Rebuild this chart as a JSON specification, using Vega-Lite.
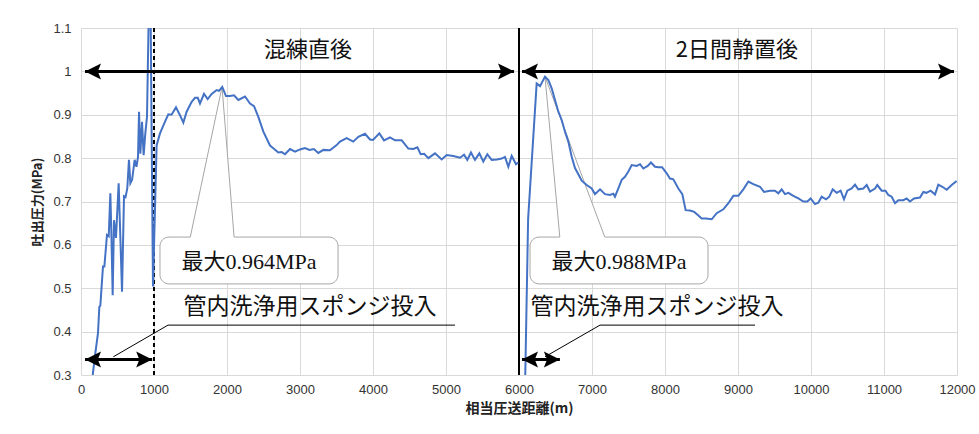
{
  "$schema": "https://vega.github.io/schema/vega-lite/v6.json",
  "width": 876,
  "height": 347,
  "autosize": {"type": "none"},
  "padding": {"left": 81, "top": 28, "right": 22, "bottom": 59},
  "background": "white",
  "config": {"view": {"stroke": null}},
  "datasets": {
    "line": [
      {"x":150,"y":0.28,"s":"a"},{"x":164,"y":0.305,"s":"a"},{"x":196,"y":0.35,"s":"a"},{"x":233,"y":0.397,"s":"a"},{"x":251,"y":0.457,"s":"a"},{"x":265,"y":0.46,"s":"a"},{"x":301,"y":0.55,"s":"a"},{"x":320,"y":0.55,"s":"a"},{"x":356,"y":0.623,"s":"a"},{"x":380,"y":0.62,"s":"a"},{"x":402,"y":0.719,"s":"a"},{"x":416,"y":0.627,"s":"a"},{"x":434,"y":0.484,"s":"a"},{"x":452,"y":0.657,"s":"a"},{"x":479,"y":0.616,"s":"a"},{"x":516,"y":0.742,"s":"a"},{"x":562,"y":0.492,"s":"a"},{"x":589,"y":0.712,"s":"a"},{"x":610,"y":0.71,"s":"a"},{"x":634,"y":0.73,"s":"a"},{"x":657,"y":0.796,"s":"a"},{"x":676,"y":0.742,"s":"a"},{"x":700,"y":0.75,"s":"a"},{"x":735,"y":0.796,"s":"a"},{"x":760,"y":0.78,"s":"a"},{"x":781,"y":0.803,"s":"a"},{"x":795,"y":0.907,"s":"a"},{"x":813,"y":0.81,"s":"a"},{"x":836,"y":0.884,"s":"a"},{"x":858,"y":0.807,"s":"a"},{"x":881,"y":0.857,"s":"a"},{"x":904,"y":0.895,"s":"a"},{"x":945,"y":1.3,"s":"a"},{"x":986,"y":0.504,"s":"a"},{"x":1036,"y":0.83,"s":"a"},{"x":1082,"y":0.857,"s":"a"},{"x":1151,"y":0.884,"s":"a"},{"x":1196,"y":0.901,"s":"a"},{"x":1240,"y":0.9,"s":"a"},{"x":1301,"y":0.917,"s":"a"},{"x":1356,"y":0.899,"s":"a"},{"x":1402,"y":0.882,"s":"a"},{"x":1447,"y":0.907,"s":"a"},{"x":1516,"y":0.93,"s":"a"},{"x":1562,"y":0.939,"s":"a"},{"x":1600,"y":0.939,"s":"a"},{"x":1630,"y":0.926,"s":"a"},{"x":1685,"y":0.948,"s":"a"},{"x":1735,"y":0.936,"s":"a"},{"x":1790,"y":0.948,"s":"a"},{"x":1858,"y":0.957,"s":"a"},{"x":1890,"y":0.955,"s":"a"},{"x":1935,"y":0.964,"s":"a"},{"x":1986,"y":0.943,"s":"a"},{"x":2040,"y":0.943,"s":"a"},{"x":2096,"y":0.945,"s":"a"},{"x":2155,"y":0.934,"s":"a"},{"x":2247,"y":0.942,"s":"a"},{"x":2315,"y":0.926,"s":"a"},{"x":2370,"y":0.92,"s":"a"},{"x":2429,"y":0.895,"s":"a"},{"x":2498,"y":0.861,"s":"a"},{"x":2589,"y":0.829,"s":"a"},{"x":2634,"y":0.823,"s":"a"},{"x":2703,"y":0.813,"s":"a"},{"x":2750,"y":0.814,"s":"a"},{"x":2795,"y":0.809,"s":"a"},{"x":2863,"y":0.821,"s":"a"},{"x":2932,"y":0.815,"s":"a"},{"x":3000,"y":0.82,"s":"a"},{"x":3068,"y":0.823,"s":"a"},{"x":3130,"y":0.819,"s":"a"},{"x":3190,"y":0.821,"s":"a"},{"x":3251,"y":0.812,"s":"a"},{"x":3320,"y":0.819,"s":"a"},{"x":3411,"y":0.818,"s":"a"},{"x":3502,"y":0.83,"s":"a"},{"x":3548,"y":0.838,"s":"a"},{"x":3639,"y":0.846,"s":"a"},{"x":3730,"y":0.838,"s":"a"},{"x":3799,"y":0.849,"s":"a"},{"x":3890,"y":0.856,"s":"a"},{"x":3959,"y":0.843,"s":"a"},{"x":4000,"y":0.842,"s":"a"},{"x":4087,"y":0.857,"s":"a"},{"x":4151,"y":0.841,"s":"a"},{"x":4233,"y":0.848,"s":"a"},{"x":4301,"y":0.841,"s":"a"},{"x":4393,"y":0.841,"s":"a"},{"x":4484,"y":0.822,"s":"a"},{"x":4553,"y":0.821,"s":"a"},{"x":4608,"y":0.825,"s":"a"},{"x":4653,"y":0.809,"s":"a"},{"x":4700,"y":0.81,"s":"a"},{"x":4758,"y":0.8,"s":"a"},{"x":4849,"y":0.811,"s":"a"},{"x":4941,"y":0.797,"s":"a"},{"x":5009,"y":0.807,"s":"a"},{"x":5100,"y":0.805,"s":"a"},{"x":5192,"y":0.801,"s":"a"},{"x":5247,"y":0.808,"s":"a"},{"x":5292,"y":0.796,"s":"a"},{"x":5342,"y":0.813,"s":"a"},{"x":5397,"y":0.796,"s":"a"},{"x":5457,"y":0.811,"s":"a"},{"x":5511,"y":0.792,"s":"a"},{"x":5566,"y":0.809,"s":"a"},{"x":5626,"y":0.796,"s":"a"},{"x":5700,"y":0.797,"s":"a"},{"x":5763,"y":0.799,"s":"a"},{"x":5808,"y":0.803,"s":"a"},{"x":5854,"y":0.78,"s":"a"},{"x":5900,"y":0.805,"s":"a"},{"x":5959,"y":0.786,"s":"a"},{"x":5990,"y":0.79,"s":"a"},
      {"x":6075,"y":0.2,"s":"b"},{"x":6125,"y":0.66,"s":"b"},{"x":6242,"y":0.972,"s":"b"},{"x":6288,"y":0.966,"s":"b"},{"x":6356,"y":0.988,"s":"b"},{"x":6402,"y":0.98,"s":"b"},{"x":6448,"y":0.961,"s":"b"},{"x":6493,"y":0.934,"s":"b"},{"x":6539,"y":0.907,"s":"b"},{"x":6585,"y":0.888,"s":"b"},{"x":6630,"y":0.861,"s":"b"},{"x":6676,"y":0.838,"s":"b"},{"x":6722,"y":0.803,"s":"b"},{"x":6767,"y":0.777,"s":"b"},{"x":6813,"y":0.763,"s":"b"},{"x":6859,"y":0.748,"s":"b"},{"x":6927,"y":0.738,"s":"b"},{"x":6996,"y":0.73,"s":"b"},{"x":7041,"y":0.717,"s":"b"},{"x":7110,"y":0.728,"s":"b"},{"x":7178,"y":0.717,"s":"b"},{"x":7247,"y":0.715,"s":"b"},{"x":7292,"y":0.718,"s":"b"},{"x":7315,"y":0.711,"s":"b"},{"x":7361,"y":0.73,"s":"b"},{"x":7407,"y":0.75,"s":"b"},{"x":7452,"y":0.757,"s":"b"},{"x":7498,"y":0.769,"s":"b"},{"x":7544,"y":0.784,"s":"b"},{"x":7612,"y":0.782,"s":"b"},{"x":7658,"y":0.786,"s":"b"},{"x":7703,"y":0.776,"s":"b"},{"x":7763,"y":0.782,"s":"b"},{"x":7808,"y":0.79,"s":"b"},{"x":7863,"y":0.78,"s":"b"},{"x":7909,"y":0.779,"s":"b"},{"x":7960,"y":0.779,"s":"b"},{"x":8023,"y":0.765,"s":"b"},{"x":8068,"y":0.753,"s":"b"},{"x":8114,"y":0.751,"s":"b"},{"x":8183,"y":0.73,"s":"b"},{"x":8237,"y":0.717,"s":"b"},{"x":8283,"y":0.68,"s":"b"},{"x":8342,"y":0.679,"s":"b"},{"x":8400,"y":0.676,"s":"b"},{"x":8450,"y":0.669,"s":"b"},{"x":8502,"y":0.661,"s":"b"},{"x":8560,"y":0.661,"s":"b"},{"x":8640,"y":0.659,"s":"b"},{"x":8708,"y":0.673,"s":"b"},{"x":8799,"y":0.682,"s":"b"},{"x":8868,"y":0.696,"s":"b"},{"x":8936,"y":0.713,"s":"b"},{"x":9005,"y":0.713,"s":"b"},{"x":9073,"y":0.728,"s":"b"},{"x":9142,"y":0.746,"s":"b"},{"x":9210,"y":0.74,"s":"b"},{"x":9301,"y":0.734,"s":"b"},{"x":9356,"y":0.722,"s":"b"},{"x":9438,"y":0.725,"s":"b"},{"x":9507,"y":0.725,"s":"b"},{"x":9553,"y":0.719,"s":"b"},{"x":9598,"y":0.728,"s":"b"},{"x":9644,"y":0.717,"s":"b"},{"x":9690,"y":0.72,"s":"b"},{"x":9758,"y":0.713,"s":"b"},{"x":9827,"y":0.707,"s":"b"},{"x":9895,"y":0.7,"s":"b"},{"x":9950,"y":0.7,"s":"b"},{"x":9995,"y":0.707,"s":"b"},{"x":10055,"y":0.694,"s":"b"},{"x":10100,"y":0.697,"s":"b"},{"x":10146,"y":0.711,"s":"b"},{"x":10205,"y":0.705,"s":"b"},{"x":10251,"y":0.711,"s":"b"},{"x":10297,"y":0.728,"s":"b"},{"x":10352,"y":0.72,"s":"b"},{"x":10406,"y":0.725,"s":"b"},{"x":10452,"y":0.705,"s":"b"},{"x":10498,"y":0.725,"s":"b"},{"x":10557,"y":0.73,"s":"b"},{"x":10603,"y":0.739,"s":"b"},{"x":10648,"y":0.728,"s":"b"},{"x":10717,"y":0.73,"s":"b"},{"x":10763,"y":0.738,"s":"b"},{"x":10808,"y":0.723,"s":"b"},{"x":10877,"y":0.73,"s":"b"},{"x":10908,"y":0.738,"s":"b"},{"x":10968,"y":0.725,"s":"b"},{"x":11020,"y":0.725,"s":"b"},{"x":11059,"y":0.715,"s":"b"},{"x":11105,"y":0.711,"s":"b"},{"x":11151,"y":0.696,"s":"b"},{"x":11196,"y":0.703,"s":"b"},{"x":11265,"y":0.703,"s":"b"},{"x":11310,"y":0.707,"s":"b"},{"x":11356,"y":0.7,"s":"b"},{"x":11411,"y":0.707,"s":"b"},{"x":11493,"y":0.709,"s":"b"},{"x":11539,"y":0.722,"s":"b"},{"x":11580,"y":0.72,"s":"b"},{"x":11639,"y":0.725,"s":"b"},{"x":11699,"y":0.716,"s":"b"},{"x":11744,"y":0.739,"s":"b"},{"x":11799,"y":0.734,"s":"b"},{"x":11859,"y":0.727,"s":"b"},{"x":11927,"y":0.738,"s":"b"},{"x":11995,"y":0.747,"s":"b"}
    ],
    "boxes": [
      {"x":1082,"x2":3521,"y":0.618,"y2":0.51},
      {"x":6151,"x2":8589,"y":0.618,"y2":0.51}
    ],
    "spikes": [
      {"id":1,"y":0.613,"x":1494,"x2":2100},
      {"id":1,"y":0.964,"x":1932,"x2":1932},
      {"id":2,"y":0.613,"x":6560,"x2":7188},
      {"id":2,"y":0.988,"x":6356,"x2":6356}
    ],
    "edges": [
      {"x":1497,"y":0.618,"x2":1932,"y2":0.964},
      {"x":1932,"y":0.964,"x2":2097,"y2":0.618},
      {"x":6559,"y":0.618,"x2":6356,"y2":0.988},
      {"x":6356,"y":0.988,"x2":7175,"y2":0.618}
    ],
    "arrows": [
      {"x":55,"x2":5932,"y":1.0,"y2":1.0},
      {"x":6041,"x2":11959,"y":1.0,"y2":1.0},
      {"x":55,"x2":975,"y":0.336,"y2":0.336},
      {"x":6041,"x2":6560,"y":0.336,"y2":0.336}
    ],
    "leaders": [
      {"x":1192,"x2":5123,"y":0.415,"y2":0.415},
      {"x":1192,"x2":443,"y":0.415,"y2":0.342},
      {"x":7110,"x2":9233,"y":0.415,"y2":0.415},
      {"x":7110,"x2":6356,"y":0.415,"y2":0.342}
    ],
    "headsL": [
      {"x":55,"y":1.0},{"x":6041,"y":1.0},{"x":55,"y":0.336},{"x":6041,"y":0.336}
    ],
    "headsR": [
      {"x":5932,"y":1.0},{"x":11959,"y":1.0},{"x":975,"y":0.336},{"x":6560,"y":0.336}
    ],
    "labels": [
      {"x":3110,"y":1.049,"t":"混練直後"},
      {"x":8986,"y":1.049,"t":"2日間静置後"}
    ],
    "sponge": [
      {"x":3137,"y":0.457,"t":"管内洗浄用スポンジ投入"},
      {"x":7890,"y":0.457,"t":"管内洗浄用スポンジ投入"}
    ],
    "maxlabels": [
      {"x":2301,"y":0.56,"t":"最大0.964MPa"},
      {"x":7370,"y":0.56,"t":"最大0.988MPa"}
    ]
  },
  "layer": [
    {
      "data": {"name": "boxes"},
      "mark": {"type": "rect", "fill": "white", "stroke": "#a6a6a6", "strokeWidth": 1, "cornerRadius": 9},
      "encoding": {
        "x": {"field": "x", "type": "quantitative",
          "scale": {"domain": [0, 12000], "nice": false, "zero": false},
          "axis": {"values": [0,1000,2000,3000,4000,5000,6000,7000,8000,9000,10000,11000,12000],
            "format": "d", "grid": true, "gridColor": "#d9d9d9", "gridWidth": 1, "domain": false, "ticks": false,
            "labelFont": "Liberation Sans", "labelFontSize": 13, "labelColor": "#333333", "labelPadding": 8, "labelFlush": false,
            "title": "相当圧送距離(m)", "titleFont": "Noto Sans CJK JP", "titleFontSize": 14, "titleFontWeight": "bold", "titleColor": "#222222", "titlePadding": 5}},
        "x2": {"field": "x2"},
        "y": {"field": "y", "type": "quantitative",
          "scale": {"domain": [0.3, 1.1], "nice": false, "zero": false},
          "axis": {"values": [0.3,0.4,0.5,0.6,0.7,0.8,0.9,1,1.1],
            "format": "~g", "grid": true, "gridColor": "#d9d9d9", "gridWidth": 1, "domain": false, "ticks": false,
            "labelFont": "Liberation Sans", "labelFontSize": 13, "labelColor": "#333333", "labelPadding": 10,
            "title": "吐出圧力(MPa)", "titleFont": "Noto Sans CJK JP", "titleFontSize": 13, "titleFontWeight": "bold", "titleColor": "#222222", "titlePadding": 8}},
        "y2": {"field": "y2"}
      }
    },
    {
      "data": {"name": "spikes"},
      "mark": {"type": "area", "orient": "horizontal", "fill": "white", "strokeWidth": 0},
      "encoding": {
        "y": {"field": "y", "type": "quantitative"},
        "x": {"field": "x", "type": "quantitative"},
        "x2": {"field": "x2"},
        "detail": {"field": "id"}
      }
    },
    {
      "data": {"name": "edges"},
      "mark": {"type": "rule", "color": "#a6a6a6", "strokeWidth": 1},
      "encoding": {
        "x": {"field": "x", "type": "quantitative"},
        "x2": {"field": "x2"},
        "y": {"field": "y", "type": "quantitative"},
        "y2": {"field": "y2"}
      }
    },
    {
      "data": {"values": [{"x": 1000, "y": 0.3, "y2": 1.1}]},
      "mark": {"type": "rule", "color": "black", "strokeWidth": 2, "strokeDash": [4, 3]},
      "encoding": {
        "x": {"field": "x", "type": "quantitative"},
        "y": {"field": "y", "type": "quantitative"},
        "y2": {"field": "y2"}
      }
    },
    {
      "data": {"values": [{"x": 6000, "y": 0.3, "y2": 1.1}]},
      "mark": {"type": "rule", "color": "black", "strokeWidth": 2},
      "encoding": {
        "x": {"field": "x", "type": "quantitative"},
        "y": {"field": "y", "type": "quantitative"},
        "y2": {"field": "y2"}
      }
    },
    {
      "data": {"name": "line"},
      "mark": {"type": "line", "color": "#4472C4", "strokeWidth": 2, "clip": true},
      "encoding": {
        "x": {"field": "x", "type": "quantitative"},
        "y": {"field": "y", "type": "quantitative"},
        "detail": {"field": "s"}
      }
    },
    {
      "data": {"name": "leaders"},
      "mark": {"type": "rule", "color": "black", "strokeWidth": 1},
      "encoding": {
        "x": {"field": "x", "type": "quantitative"},
        "x2": {"field": "x2"},
        "y": {"field": "y", "type": "quantitative"},
        "y2": {"field": "y2"}
      }
    },
    {
      "data": {"name": "arrows"},
      "mark": {"type": "rule", "color": "black", "strokeWidth": 3},
      "encoding": {
        "x": {"field": "x", "type": "quantitative"},
        "x2": {"field": "x2"},
        "y": {"field": "y", "type": "quantitative"},
        "y2": {"field": "y2"}
      }
    },
    {
      "data": {"name": "headsL"},
      "mark": {"type": "point", "shape": "M0,0L2,-1L1.6,0L2,1Z", "size": 256, "filled": true, "color": "black", "opacity": 1},
      "encoding": {
        "x": {"field": "x", "type": "quantitative"},
        "y": {"field": "y", "type": "quantitative"}
      }
    },
    {
      "data": {"name": "headsR"},
      "mark": {"type": "point", "shape": "M0,0L-2,-1L-1.6,0L-2,1Z", "size": 256, "filled": true, "color": "black", "opacity": 1},
      "encoding": {
        "x": {"field": "x", "type": "quantitative"},
        "y": {"field": "y", "type": "quantitative"}
      }
    },
    {
      "data": {"name": "labels"},
      "mark": {"type": "text", "font": "Noto Sans CJK JP", "fontSize": 22, "color": "#111111", "align": "center", "baseline": "middle"},
      "encoding": {
        "x": {"field": "x", "type": "quantitative"},
        "y": {"field": "y", "type": "quantitative"},
        "text": {"field": "t"}
      }
    },
    {
      "data": {"name": "sponge"},
      "mark": {"type": "text", "font": "Noto Sans CJK JP", "fontSize": 23, "color": "#111111", "align": "center", "baseline": "middle"},
      "encoding": {
        "x": {"field": "x", "type": "quantitative"},
        "y": {"field": "y", "type": "quantitative"},
        "text": {"field": "t"}
      }
    },
    {
      "data": {"name": "maxlabels"},
      "mark": {"type": "text", "font": "Liberation Serif, Noto Sans CJK JP", "fontSize": 22, "color": "#111111", "align": "center", "baseline": "middle"},
      "encoding": {
        "x": {"field": "x", "type": "quantitative"},
        "y": {"field": "y", "type": "quantitative"},
        "text": {"field": "t"}
      }
    }
  ]
}
